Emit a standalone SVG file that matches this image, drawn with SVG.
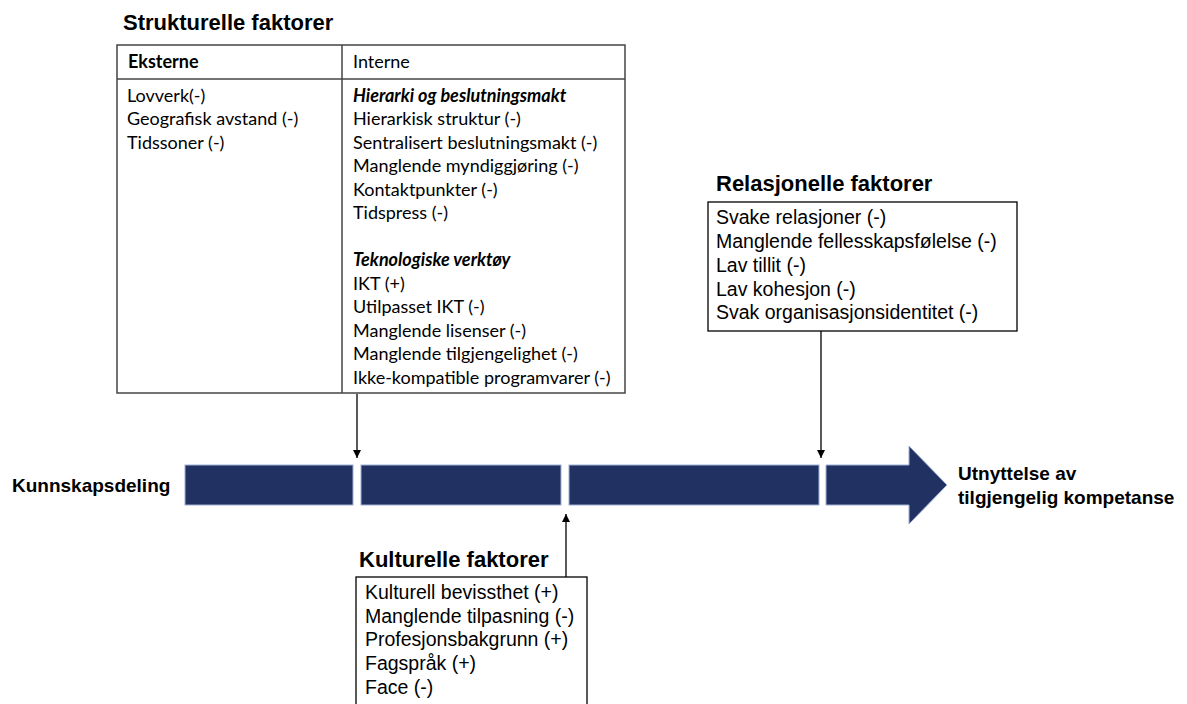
<svg xmlns="http://www.w3.org/2000/svg" width="1187" height="704" viewBox="0 0 1187 704">
<defs>
<marker id="ah" viewBox="0 0 10 10" refX="10" refY="5" markerWidth="8" markerHeight="10" markerUnits="userSpaceOnUse" orient="auto">
<path d="M0,0 L10,5 L0,10 z" fill="#000"/>
</marker>
</defs>
<style>
.title{font-family:"Liberation Sans",Arial,sans-serif;font-weight:bold;font-size:22px;fill:#000}
.ar{font-family:"Liberation Sans",Arial,sans-serif;font-size:19.5px;fill:#000}
.cal{font-family:Lato,"Open Sans",sans-serif;font-size:18px;fill:#000}
.calb{font-family:Lato,"Open Sans",sans-serif;font-size:18px;font-weight:bold;fill:#000}
.cali{font-family:Lato,"Open Sans",sans-serif;font-size:18px;font-weight:bold;font-style:italic;fill:#000}
.lbl{font-family:"Liberation Sans",Arial,sans-serif;font-weight:bold;font-size:19px;fill:#000}
.box{fill:#fff;stroke:#000;stroke-width:1.3}
.tbl{fill:none;stroke:#444;stroke-width:1.5}
.seg{fill:#213262;stroke:#9fb0d4;stroke-width:1}
.conn{stroke:#000;stroke-width:1.3;fill:none}
</style>
<rect width="1187" height="704" fill="#fff"/>

<g id="main-arrow">
<rect class="seg" x="185" y="465" width="168" height="40"/>
<rect class="seg" x="361" y="465" width="200" height="40"/>
<rect class="seg" x="569" y="465" width="250" height="40"/>
<polygon class="seg" points="826,465 909,465 909,446 947,485 909,524 909,505 826,505"/>
</g>

<g id="start-label"><text class="lbl" x="12" y="492">Kunnskapsdeling</text></g>
<g id="end-label">
<text class="lbl" x="958" y="480">Utnyttelse av</text>
<text class="lbl" x="958" y="504">tilgjengelig kompetanse</text>
</g>

<g id="strukturelle">
<text class="title" x="123" y="30">Strukturelle faktorer</text>
<rect x="117" y="45" width="508" height="348" fill="#fff"/>
<rect class="tbl" x="117" y="45" width="508" height="348"/>
<line class="tbl" x1="117" y1="79" x2="625" y2="79"/>
<line class="tbl" x1="342" y1="45" x2="342" y2="393"/>
<text class="calb" x="128" y="68">Eksterne</text>
<text class="cal" x="353" y="68">Interne</text>
<text class="cal" x="127" y="102">Lovverk(-)</text>
<text class="cal" x="127" y="125">Geografisk avstand (-)</text>
<text class="cal" x="127" y="149">Tidssoner (-)</text>
<text class="cali" x="353" y="102">Hierarki og beslutningsmakt</text>
<text class="cal" x="353" y="125">Hierarkisk struktur (-)</text>
<text class="cal" x="353" y="149">Sentralisert beslutningsmakt (-)</text>
<text class="cal" x="353" y="172">Manglende myndiggjøring (-)</text>
<text class="cal" x="353" y="196">Kontaktpunkter (-)</text>
<text class="cal" x="353" y="219">Tidspress (-)</text>
<text class="cali" x="353" y="266">Teknologiske verktøy</text>
<text class="cal" x="353" y="290">IKT (+)</text>
<text class="cal" x="353" y="313">Utilpasset IKT (-)</text>
<text class="cal" x="353" y="337">Manglende lisenser (-)</text>
<text class="cal" x="353" y="360">Manglende tilgjengelighet (-)</text>
<text class="cal" x="353" y="384">Ikke-kompatible programvarer (-)</text>
</g>

<g id="relasjonelle">
<text class="title" x="716" y="191">Relasjonelle faktorer</text>
<rect class="box" x="708" y="202" width="309" height="129"/>
<text class="ar" x="716" y="224">Svake relasjoner (-)</text>
<text class="ar" x="716" y="248">Manglende fellesskapsfølelse (-)</text>
<text class="ar" x="716" y="272">Lav tillit (-)</text>
<text class="ar" x="716" y="296">Lav kohesjon (-)</text>
<text class="ar" x="716" y="319">Svak organisasjonsidentitet (-)</text>
</g>

<g id="kulturelle">
<text class="title" x="359" y="567">Kulturelle faktorer</text>
<rect class="box" x="356" y="577" width="231" height="140"/>
<text class="ar" x="365" y="599">Kulturell bevissthet (+)</text>
<text class="ar" x="365" y="623">Manglende tilpasning (-)</text>
<text class="ar" x="365" y="646">Profesjonsbakgrunn (+)</text>
<text class="ar" x="365" y="670">Fagspråk (+)</text>
<text class="ar" x="365" y="694">Face (-)</text>
</g>

<g id="connectors">
<line class="conn" x1="357" y1="394" x2="357" y2="458" marker-end="url(#ah)"/>
<line class="conn" x1="821" y1="331" x2="821" y2="458" marker-end="url(#ah)"/>
<line class="conn" x1="566" y1="577" x2="566" y2="514" marker-end="url(#ah)"/>
</g>
</svg>
